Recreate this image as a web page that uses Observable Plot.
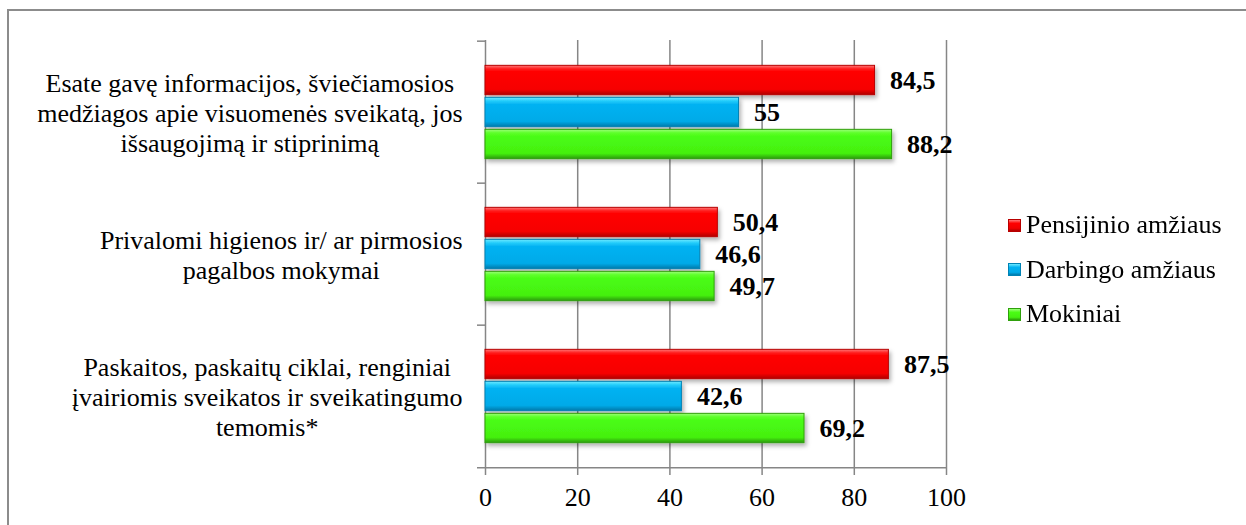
<!DOCTYPE html>
<html>
<head>
<meta charset="utf-8">
<script src="https://cdn.jsdelivr.net/npm/d3@7"></script>
<script src="https://cdn.jsdelivr.net/npm/@observablehq/plot@0.6"></script>
<style>
  html, body { margin: 0; padding: 0; background: #fff; }
  #wrap { position: relative; width: 1246px; height: 525px; overflow: hidden; font-family: 'Liberation Serif'; }
  #border { position: absolute; left: 7px; top: 9px; width: 1400px; height: 700px; border-top: 2px solid #8c8c8c; border-left: 2px solid #8c8c8c; }
  #chart { position: absolute; left: 0; top: 0; }
  .leg { position: absolute; left: 1008px; height: 30px; display: flex; align-items: center; font-size: 22px; line-height: 30px; color: #000; white-space: nowrap; font-family: 'Liberation Serif'; }
  .leg span { display: inline-block; transform-origin: left center; }
  .sw { width: 13px; height: 13px; margin-right: 5px; box-sizing: border-box; }
</style>
</head>
<body>
<svg width="0" height="0" style="position:absolute">
  <defs>
    <linearGradient id="gRed" x1="0" y1="0" x2="0" y2="1">
      <stop offset="0" stop-color="#ff7a7a"/>
      <stop offset="0.1" stop-color="#ff2a2a"/>
      <stop offset="0.2" stop-color="#ff0000"/>
      <stop offset="0.82" stop-color="#f60000"/>
      <stop offset="1" stop-color="#b00000"/>
    </linearGradient>
    <linearGradient id="gBlue" x1="0" y1="0" x2="0" y2="1">
      <stop offset="0" stop-color="#6eeaff"/>
      <stop offset="0.12" stop-color="#25cdfb"/>
      <stop offset="0.24" stop-color="#00b2f2"/>
      <stop offset="0.82" stop-color="#00aae8"/>
      <stop offset="1" stop-color="#0079aa"/>
    </linearGradient>
    <linearGradient id="gGreen" x1="0" y1="0" x2="0" y2="1">
      <stop offset="0" stop-color="#9cff7a"/>
      <stop offset="0.12" stop-color="#5eff2a"/>
      <stop offset="0.24" stop-color="#4afc14"/>
      <stop offset="0.82" stop-color="#44f010"/>
      <stop offset="1" stop-color="#2b9a0a"/>
    </linearGradient>
    <filter id="shadow" x="-5%" y="-30%" width="110%" height="170%">
      <feDropShadow dx="2" dy="3" stdDeviation="2" flood-color="#000" flood-opacity="0.3"/>
    </filter>
  </defs>
</svg>
<div id="wrap">
  <div id="border"></div>
  <div id="chart"></div>
</div>
<script>
// ---- data ----
const categories = [
  "Esate gavę informacijos, šviečiamosios\nmedžiagos apie visuomenės sveikatą, jos\nišsaugojimą ir stiprinimą",
  "Privalomi higienos ir/ ar pirmosios\npagalbos mokymai",
  "Paskaitos, paskaitų ciklai, renginiai\nįvairiomis sveikatos ir sveikatingumo\ntemomis*"
];
const seriesNames = ["Pensijinio amžiaus", "Darbingo amžiaus", "Mokiniai"];
const pensijinio = [84.5, 50.4, 87.5];
const darbingo = [55, 46.6, 42.6];
const mokiniai = [88.2, 49.7, 69.2];
const xTicks = [0, 20, 40, 60, 80, 100];

// ---- layout / style ----
const W = 1246, H = 525;
const mTop = 40, mBottom = 57, mLeft = 485, mRight = 300;
const band = (H - mTop - mBottom) / categories.length;
const barH = 30, barStep = 32;
const inset = (band - barH) / 2;
const fills = ["url(#gRed)", "url(#gBlue)", "url(#gGreen)"];
const strokes = ["#b80000", "#0082b4", "#2fa00c"];
const swatchBg = [
  "linear-gradient(#ff7a7a, #ff0000 30%, #f00000 75%, #b00000)",
  "linear-gradient(#6eeaff, #00b2f2 30%, #00aae8 75%, #0079aa)",
  "linear-gradient(#9cff7a, #4afc14 30%, #44f010 75%, #2b9a0a)"
];
const gridColor = "#868686";
const FONT = "Liberation Serif";
const baseSize = 22;          // regular text is set at 22px (renders in the serif face) ...
const targetSize = 26;        // ... and scaled up to the reference's 26px
const k26 = targetSize / baseSize;

const seriesValues = [pensijinio, darbingo, mokiniai];
const rows = [];
seriesValues.forEach((vals, k) => vals.forEach((v, i) => rows.push({category: categories[i], series: seriesNames[k], k, value: v})));

const fmt = v => String(v).replace(".", ",");

// measure label widths to right-align each label block (lines centered within)
const ctx = document.createElement("canvas").getContext("2d");
ctx.font = baseSize + "px 'Liberation Serif'";
const labelGap = 23;
const labelDx = categories.map(c => {
  const w = k26 * Math.max(...c.split("\n").map(l => ctx.measureText(l).width));
  return -(labelGap + w / 2);
});

const marks = [
  Plot.ruleX(xTicks.filter(d => d > 0), {stroke: gridColor, strokeWidth: 1.5}),
  Plot.ruleX([0], {stroke: gridColor, strokeWidth: 1.5}),
  Plot.ruleY(categories, {y: d => d, x1: 0, x2: 0, dy: -band / 2, insetLeft: -8, stroke: gridColor, strokeWidth: 1.5}),
  Plot.ruleY([categories[categories.length - 1]], {y: d => d, x1: 0, x2: 100, dy: band / 2, insetLeft: -8, stroke: gridColor, strokeWidth: 1.5}),
];
seriesNames.forEach((s, k) => {
  const data = rows.filter(r => r.k === k);
  const off = (k - 1) * barStep;
  marks.push(Plot.barX(data, {x1: 0, x2: "value", y: "category", dy: off, insetTop: inset, insetBottom: inset, fill: fills[k], stroke: strokes[k], strokeWidth: 1}));
  marks.push(Plot.text(data, {x: "value", y: "category", dy: off, dx: 15, text: d => fmt(d.value), textAnchor: "start", fontWeight: "bold", fontSize: targetSize, fontFamily: FONT, fill: "#000"}));
});
categories.forEach((c, i) => {
  marks.push(Plot.text([c], {x: 0, y: d => d, text: d => d, dx: labelDx[i], textAnchor: "middle", lineHeight: 1.15, fontSize: baseSize, fontFamily: FONT, fill: "#000"}));
});
marks.push(Plot.axisX(xTicks, {tickSize: 7, tickPadding: 12, stroke: gridColor, strokeWidth: 1.5, fill: "#000", fontSize: baseSize, fontFamily: FONT, label: null}));

const chart = Plot.plot({
  width: W,
  height: H,
  marginTop: mTop,
  marginBottom: mBottom,
  marginLeft: mLeft,
  marginRight: mRight,
  style: {fontFamily: FONT, fontSize: baseSize + "px", color: "#000", background: "transparent", overflow: "visible"},
  x: {domain: [0, 100]},
  y: {domain: categories, padding: 0, axis: null},
  marks
});
chart.querySelectorAll('g[aria-label="bar"]').forEach(g => g.setAttribute("filter", "url(#shadow)"));
// scale regular (non-bold) texts from 22px to 26px around their anchor
chart.querySelectorAll("text").forEach(el => {
  if (el.closest('[font-weight="bold"]')) return;
  const t = el.getAttribute("transform");
  if (t) {
    el.setAttribute("transform", t + " scale(" + k26 + ")");
  } else {
    const x = +el.getAttribute("x") || 0, y = +el.getAttribute("y") || 0;
    el.removeAttribute("x"); el.removeAttribute("y");
    el.setAttribute("transform", "translate(" + x + "," + y + ") scale(" + k26 + ")");
  }
});
document.getElementById("chart").appendChild(chart);

// legend
const wrap = document.getElementById("wrap");
const legTops = [210, 254.5, 299];
seriesNames.forEach((s, k) => {
  const item = document.createElement("div");
  item.className = "leg";
  item.style.top = legTops[k] + "px";
  const sw = document.createElement("div");
  sw.className = "sw";
  sw.style.background = swatchBg[k];
  sw.style.border = "1px solid " + strokes[k];
  const t = document.createElement("span");
  t.textContent = s;
  t.style.transform = "scale(" + k26 + ")";
  item.appendChild(sw);
  item.appendChild(t);
  wrap.appendChild(item);
});
</script>
</body>
</html>
